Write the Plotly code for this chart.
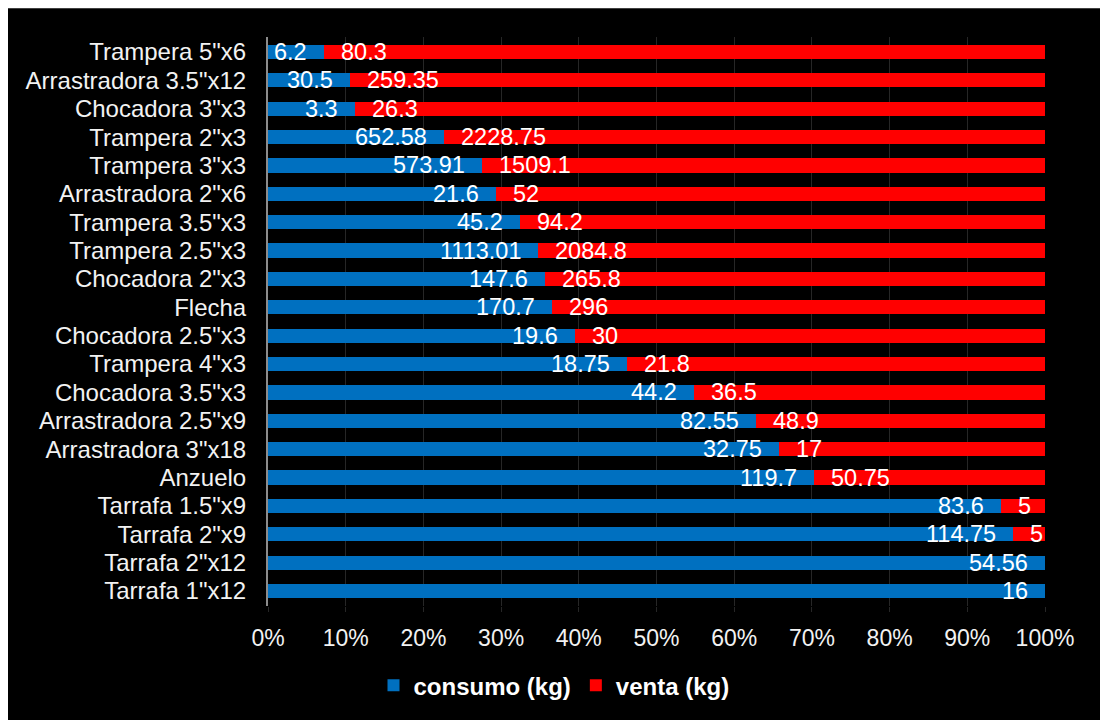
import plotly.graph_objects as go

# Artes de pesca, de arriba hacia abajo
categorias = [
    'Trampera 5"x6', 'Arrastradora 3.5"x12', 'Chocadora 3"x3', 'Trampera 2"x3',
    'Trampera 3"x3', 'Arrastradora 2"x6', 'Trampera 3.5"x3', 'Trampera 2.5"x3',
    'Chocadora 2"x3', 'Flecha', 'Chocadora 2.5"x3', 'Trampera 4"x3',
    'Chocadora 3.5"x3', 'Arrastradora 2.5"x9', 'Arrastradora 3"x18', 'Anzuelo',
    'Tarrafa 1.5"x9', 'Tarrafa 2"x9', 'Tarrafa 2"x12', 'Tarrafa 1"x12',
]
consumo_kg = [6.2, 30.5, 3.3, 652.58, 573.91, 21.6, 45.2, 1113.01, 147.6, 170.7,
              19.6, 18.75, 44.2, 82.55, 32.75, 119.7, 83.6, 114.75, 54.56, 16]
venta_kg = [80.3, 259.35, 26.3, 2228.75, 1509.1, 52, 94.2, 2084.8, 265.8, 296,
            30, 21.8, 36.5, 48.9, 17, 50.75, 5, 5, 0, 0]
x_ticks = list(range(0, 101, 10))
x_ticktext = [f"{v}%" for v in x_ticks]

FONT = "Liberation Sans, Arial, sans-serif"
AZUL = "#0070C0"
ROJO = "#FF0000"

# Plot-area geometry in pixels (used for margins and the outer frame)
W, H = 1100, 720
L, R, T, B = 268, 1045, 37, 609
pw, ph = R - L, B - T


def fmt(v):
    return f"{v:g}"


fig = go.Figure()
fig.add_trace(go.Bar(
    name="consumo (kg)", y=categorias, x=consumo_kg, orientation="h",
    marker=dict(color=AZUL, line=dict(width=0)),
))
fig.add_trace(go.Bar(
    name="venta (kg)", y=categorias, x=venta_kg, orientation="h",
    marker=dict(color=ROJO, line=dict(width=0)),
))

# value labels: consumo right-aligned at the end of the blue segment,
# venta left-aligned at the start of the red segment
annotations = []
lbl_font = dict(family=FONT, size=23.5, color="white")
for cat, c, v in zip(categorias, consumo_kg, venta_kg):
    split = c / (c + v) * 100
    if c:
        annotations.append(dict(x=split, y=cat, xref="x", yref="y", text=fmt(c),
                                showarrow=False, xanchor="right", yanchor="middle",
                                xshift=-15, font=lbl_font))
    if v:
        annotations.append(dict(x=split, y=cat, xref="x", yref="y", text=fmt(v),
                                showarrow=False, xanchor="left", yanchor="middle",
                                xshift=15, font=lbl_font))

# white frame along the top and left edges
px0 = (8 - L) / pw
py1 = 1 + (T - 8) / ph
shapes = [
    dict(type="rect", xref="paper", yref="paper", x0=-1, x1=2, y0=py1, y1=2,
         fillcolor="white", line=dict(width=0), layer="above"),
    dict(type="rect", xref="paper", yref="paper", x0=-1, x1=px0, y0=-1, y1=2,
         fillcolor="white", line=dict(width=0), layer="above"),
]

fig.update_layout(
    width=W, height=H,
    margin=dict(l=L, r=W - R, t=T, b=H - B, pad=0),
    paper_bgcolor="black", plot_bgcolor="black",
    barmode="stack", barnorm="percent", bargap=0.5,
    font=dict(family=FONT, size=24, color="white"),
    showlegend=True,
    legend=dict(
        orientation="h", x=(554 - L) / pw, xanchor="center",
        y=(B - 689) / ph, yanchor="middle",
        font=dict(family=FONT, size=24, color="white", weight="bold"),
        traceorder="normal", bgcolor="rgba(0,0,0,0)",
    ),
    xaxis=dict(
        range=[0, 100], tickvals=x_ticks, ticktext=x_ticktext,
        showgrid=True, gridcolor="#262626", gridwidth=1,
        ticks="outside", ticklen=5, tickcolor="#262626",
        zeroline=False, showline=False,
        tickfont=dict(family=FONT, size=23, color="#f2f2f2"),
        ticklabelstandoff=6, fixedrange=True,
    ),
    yaxis=dict(
        autorange="reversed", type="category",
        tickmode="array", tickvals=categorias, ticktext=categorias,
        showgrid=False, zeroline=False,
        showline=True, linecolor="#8c8c8c", linewidth=2,
        ticks="", tickfont=dict(family=FONT, size=24, color="#f2f2f2"),
        ticklabelstandoff=15, fixedrange=True,
    ),
    shapes=shapes,
    annotations=annotations,
)

fig.write_html("out.html")
